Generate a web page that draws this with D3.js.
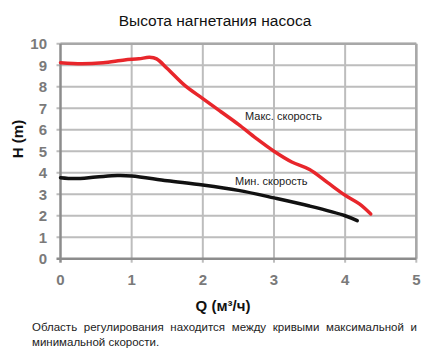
<!DOCTYPE html>
<html><head><meta charset="utf-8">
<script src="https://cdn.jsdelivr.net/npm/d3@7"></script>
<style>body{margin:0;background:#fff}svg{display:block}</style>
</head><body>
<script>
const title = "Высота нагнетания насоса";
const xLabel = "Q (м³/ч)";
const yLabel = "H (m)";
const caption1 = "Область регулирования находится между кривыми максимальной и";
const caption2 = "минимальной скорости.";
const xTicks = [0, 1, 2, 3, 4, 5];
const yTicks = [0, 1, 2, 3, 4, 5, 6, 7, 8, 9, 10];
const maxName = "Макс. скорость";
const minName = "Мин. скорость";
const maxQ = [0, 0.3, 0.6, 0.9, 1.1, 1.25, 1.35, 1.5, 1.75, 2.0, 2.25, 2.5, 2.75, 3.0, 3.25, 3.5, 3.75, 4.0, 4.2, 4.36];
const maxH = [9.12, 9.07, 9.12, 9.25, 9.3, 9.37, 9.3, 8.85, 8.05, 7.45, 6.85, 6.25, 5.6, 5.0, 4.5, 4.15, 3.55, 2.95, 2.55, 2.08];
const minQ = [0, 0.2, 0.5, 0.8, 1.0, 1.5, 2.0, 2.5, 3.0, 3.5, 4.0, 4.17];
const minH = [3.77, 3.73, 3.8, 3.87, 3.85, 3.63, 3.43, 3.18, 2.83, 2.45, 2.0, 1.77];

const W = 422, H = 349;
const f = "Liberation Sans, Arial, sans-serif";
const svg = d3.select("body").append("svg").attr("width", W).attr("height", H);
const x = d3.scaleLinear().domain([0, 5]).range([60.5, 416.3]);
const y = d3.scaleLinear().domain([0, 10]).range([258.7, 43.8]);

// grid
const g = svg.append("g");
g.selectAll(".hg").data(yTicks.slice(1)).enter().append("line")
  .attr("x1", x(0) - 4).attr("x2", x(5)).attr("y1", d => y(d)).attr("y2", d => y(d))
  .attr("stroke", "#bdbdbd").attr("stroke-width", 2);
g.selectAll(".vg").data(xTicks.slice(1)).enter().append("line")
  .attr("x1", d => x(d)).attr("x2", d => x(d)).attr("y1", y(10)).attr("y2", y(0) + 4)
  .attr("stroke", "#bdbdbd").attr("stroke-width", 2);
g.append("line").attr("x1", x(0)).attr("x2", x(5)).attr("y1", y(10)).attr("y2", y(10)).attr("stroke", "#a8a8a8").attr("stroke-width", 2.5);
g.append("line").attr("x1", x(5)).attr("x2", x(5)).attr("y1", y(10)).attr("y2", y(0)).attr("stroke", "#a8a8a8").attr("stroke-width", 2.5);
g.append("line").attr("x1", x(0) - 4).attr("x2", x(5)).attr("y1", y(0)).attr("y2", y(0)).attr("stroke", "#8c8c8c").attr("stroke-width", 2.5);
g.append("line").attr("x1", x(0)).attr("x2", x(0)).attr("y1", y(10)).attr("y2", y(0) + 4).attr("stroke", "#8c8c8c").attr("stroke-width", 2.5);

// tick labels
svg.selectAll(".yt").data(yTicks).enter().append("text")
  .attr("x", 47).attr("y", d => y(d) + 5.5).attr("text-anchor", "end")
  .attr("font-family", f).attr("font-weight", "bold")
  .attr("font-size", 15).attr("fill", "#7a7a7a").text(d => d);
svg.selectAll(".xt").data(xTicks).enter().append("text")
  .attr("x", d => x(d)).attr("y", 285).attr("text-anchor", "middle")
  .attr("font-family", f).attr("font-weight", "bold")
  .attr("font-size", 15).attr("fill", "#7a7a7a").text(d => d);

// curves
const line = d3.line().curve(d3.curveCatmullRom.alpha(0.5)).x(d => x(d[0])).y(d => y(d[1]));
svg.append("path").datum(minQ.map((q, i) => [q, minH[i]])).attr("d", line)
  .attr("fill", "none").attr("stroke", "#111").attr("stroke-width", 3.5).attr("stroke-linecap", "round");
svg.append("path").datum(maxQ.map((q, i) => [q, maxH[i]])).attr("d", line)
  .attr("fill", "none").attr("stroke", "#e8262b").attr("stroke-width", 3.5).attr("stroke-linecap", "round");

// labels
svg.append("text").attr("x", 245).attr("y", 120).attr("font-family", f).attr("font-size", 11).attr("fill", "#222").text(maxName);
svg.append("text").attr("x", 235).attr("y", 185).attr("font-family", f).attr("font-size", 11).attr("fill", "#222").text(minName);
svg.append("text").attr("x", 215).attr("y", 26).attr("text-anchor", "middle").attr("font-family", f).attr("font-size", 15.5).attr("fill", "#111").text(title);
svg.append("text").attr("transform", "translate(23,139) rotate(-90)").attr("text-anchor", "middle")
  .attr("font-family", f).attr("font-weight", "bold").attr("font-size", 15).attr("fill", "#111").text(yLabel);
svg.append("text").attr("x", 223).attr("y", 311).attr("text-anchor", "middle")
  .attr("font-family", f).attr("font-weight", "bold").attr("font-size", 15).attr("fill", "#111").text(xLabel);
const c1 = svg.append("text").attr("x", 32).attr("y", 331).attr("font-family", f).attr("font-size", 11.5).attr("fill", "#222").text(caption1);
const len = c1.node().getComputedTextLength();
const spaces = caption1.split(" ").length - 1;
c1.attr("word-spacing", Math.max(0, (385 - len) / spaces));
svg.append("text").attr("x", 32).attr("y", 346).attr("font-family", f).attr("font-size", 11.5).attr("fill", "#222").text(caption2);
</script>
</body></html>
